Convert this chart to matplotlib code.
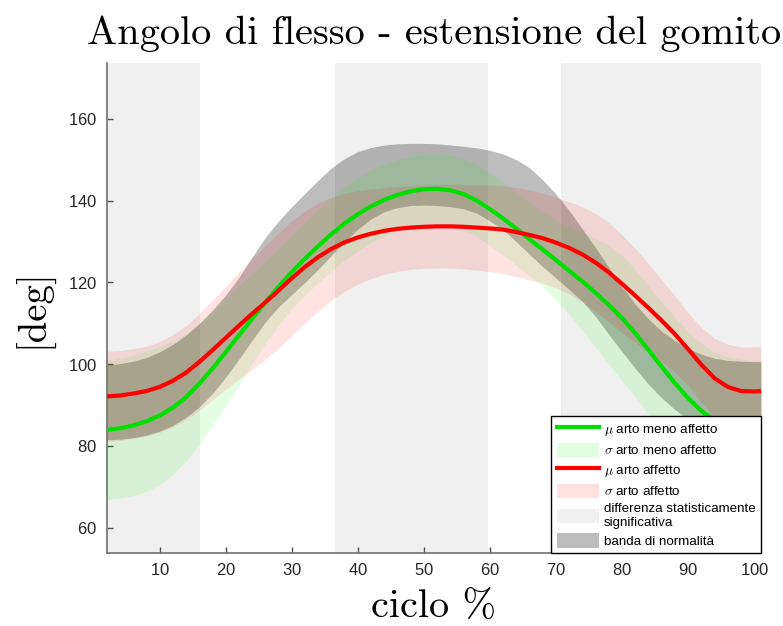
import matplotlib
matplotlib.use("Agg")
import matplotlib.pyplot as plt
from matplotlib.patches import Patch
from matplotlib.lines import Line2D
import numpy as np

plt.rcParams['mathtext.fontset'] = 'cm'
plt.rcParams['axes.formatter.use_mathtext'] = True

# gait cycle samples (%)
ciclo = list(range(2, 101, 2)) + [101]

# mean / sd, arto meno affetto (green)
mu_meno = [83.9, 84.3, 85.0, 86.0, 87.4, 89.3, 91.9, 95.2, 98.9, 102.9,
           107.0, 111.1, 115.1, 118.9, 122.5, 125.8, 128.9, 131.8, 134.4, 136.7,
           138.6, 140.2, 141.4, 142.3, 142.8, 142.9, 142.5, 141.6, 140.0, 137.9,
           135.6, 133.1, 130.5, 128.0, 125.4, 122.8, 120.2, 117.4, 114.4, 111.2,
           107.5, 103.4, 99.3, 95.3, 91.6, 88.5, 86.2, 84.8, 84.1, 83.8, 83.8]
sd_meno = [17.0, 17.1, 17.2, 17.2, 16.9, 16.3, 15.6, 14.8, 14.0, 13.2,
           12.2, 11.0, 10.0, 9.3, 9.0, 9.0, 9.0, 9.0, 9.0, 9.0,
           8.9, 8.8, 8.7, 8.6, 8.5, 8.5, 8.6, 8.7, 8.8, 8.9,
           9.0, 9.0, 9.0, 9.2, 9.8, 10.8, 12.0, 13.3, 14.5, 15.3,
           15.6, 15.7, 15.9, 16.1, 16.3, 16.5, 16.7, 16.9, 17.0, 17.0, 17.0]

# mean / sd, arto affetto (red)
mu_aff = [92.1, 92.3, 92.8, 93.4, 94.4, 95.9, 97.9, 100.5, 103.4, 106.4,
          109.4, 112.3, 115.1, 118.0, 121.0, 123.8, 126.2, 128.2, 129.8, 131.0,
          131.9, 132.6, 133.1, 133.4, 133.6, 133.7, 133.7, 133.6, 133.4, 133.2,
          132.9, 132.3, 131.6, 130.8, 129.7, 128.4, 126.8, 124.8, 122.4, 119.6,
          116.7, 113.7, 110.6, 107.3, 103.6, 99.8, 96.5, 94.4, 93.4, 93.3, 93.4]
sd_aff = [11.0, 11.0, 11.0, 11.0, 11.1, 11.3, 11.5, 11.8, 12.2, 12.6,
          13.1, 13.6, 13.9, 14.1, 14.0, 13.7, 13.2, 12.6, 12.0, 11.4,
          11.0, 10.6, 10.4, 10.2, 10.2, 10.2, 10.2, 10.3, 10.4, 10.6,
          10.8, 10.9, 11.0, 11.0, 11.1, 11.3, 11.7, 12.0, 12.1, 12.0,
          11.5, 10.8, 10.0, 9.3, 8.9, 9.1, 9.8, 10.4, 10.8, 10.9, 10.9]

# banda di normalita (lower / upper)
norm_lo = [81.5, 81.6, 82.0, 82.6, 83.6, 85.0, 87.0, 89.5, 92.8, 96.8,
           101.2, 105.8, 110.3, 114.0, 117.0, 120.0, 123.2, 126.6, 130.0, 133.0,
           135.5, 137.3, 138.3, 138.8, 138.9, 138.8, 138.5, 138.0, 136.9, 135.0,
           132.8, 129.9, 126.8, 123.8, 121.0, 118.2, 115.3, 111.6, 107.2, 103.0,
           98.9, 95.0, 91.7, 88.8, 86.5, 84.7, 83.3, 82.3, 81.7, 81.5, 81.5]
norm_hi = [99.8, 100.1, 100.7, 101.6, 103.0, 104.8, 107.1, 109.9, 113.2, 116.9,
           121.2, 126.2, 131.0, 135.0, 138.5, 141.8, 145.0, 148.0, 150.3, 152.0,
           153.0, 153.6, 153.9, 154.0, 154.0, 153.9, 153.6, 153.3, 152.9, 152.3,
           151.4, 150.0, 148.0, 145.0, 141.6, 137.5, 133.0, 128.4, 123.6, 118.8,
           114.6, 111.0, 108.0, 105.7, 103.8, 102.4, 101.4, 100.9, 100.7, 100.6, 100.6]

# intervals with statistically significant difference
sig_start = [2, 36.6, 70.7]
sig_end = [16.1, 59.7, 101]

x = np.array(ciclo)
mu_m, sd_m = np.array(mu_meno), np.array(sd_meno)
mu_a, sd_a = np.array(mu_aff), np.array(sd_aff)

fig = plt.figure(figsize=(7.83, 6.26), dpi=100)
ax = fig.add_axes([0.1363, 0.1161, 0.8356, 0.7828])

sig_col = (0.94, 0.94, 0.94)
for s, e in zip(sig_start, sig_end):
    ax.axvspan(s, e, color=sig_col, lw=0, zorder=0)

ax.fill_between(x, norm_lo, norm_hi, color='k', alpha=0.26, lw=0, zorder=1)
ax.fill_between(x, mu_m - sd_m, mu_m + sd_m, color=(0, 1, 0), alpha=0.1, lw=0, zorder=2)
ax.fill_between(x, mu_a - sd_a, mu_a + sd_a, color=(1, 0, 0), alpha=0.11, lw=0, zorder=2)
ax.plot(x, mu_m, color=(0, 0.88, 0), lw=3, zorder=3)
ax.plot(x, mu_a, color=(1, 0, 0), lw=3, zorder=3)

ax.set_xlim(2, 101)
ax.set_ylim(53.7, 173.6)
ax.set_xticks(range(10, 101, 10))
ax.set_yticks(range(60, 161, 20))

for side in ['top', 'right']:
    ax.spines[side].set_visible(False)
for side in ['left', 'bottom']:
    ax.spines[side].set_color('#707070')
    ax.spines[side].set_linewidth(1.2)
ax.tick_params(direction='in', length=4, width=1, color='#505050',
               labelsize=12, labelcolor='#262626')
ax.tick_params(axis='x', pad=6.5)
ax.tick_params(axis='y', pad=7)
for lab in ax.get_xticklabels() + ax.get_yticklabels():
    lab.set_fontfamily('Liberation Sans')

ax.set_title('Angolo di flesso - estensione del gomito', family='cmr10',
             fontsize=29, y=1.039, pad=0)
ax.set_xlabel('ciclo %', family='cmr10', fontsize=29, va='baseline')
ax.xaxis.set_label_coords(0.5, -0.131)
ax.set_ylabel('[deg]', family='cmr10', fontsize=28, va='center')
ax.yaxis.set_label_coords(-0.1126, 0.5)

handles = [
    Line2D([], [], color=(0, 0.88, 0), lw=3),
    Patch(facecolor=(0, 1, 0), alpha=0.12, lw=0),
    Line2D([], [], color=(1, 0, 0), lw=3),
    Patch(facecolor=(1, 0, 0), alpha=0.12, lw=0),
    Patch(facecolor=sig_col, lw=0),
    Patch(facecolor='k', alpha=0.26, lw=0),
]
labels = [
    r'$\mu$ arto meno affetto',
    r'$\sigma$ arto meno affetto',
    r'$\mu$ arto affetto',
    r'$\sigma$ arto affetto',
    'differenza statisticamente\nsignificativa',
    'banda di normalità',
]
leg = ax.legend(handles, labels, loc='lower right', bbox_to_anchor=(1, 0),
                borderaxespad=0, fancybox=False, framealpha=1,
                edgecolor='k', prop={'family': 'Liberation Sans', 'size': 9.6},
                handlelength=3.2, handleheight=1.25, handletextpad=0.35,
                labelspacing=0.36, borderpad=0.4)
leg.get_frame().set_linewidth(1)
leg.set_zorder(5)

fig.savefig('out.png', dpi=100)
